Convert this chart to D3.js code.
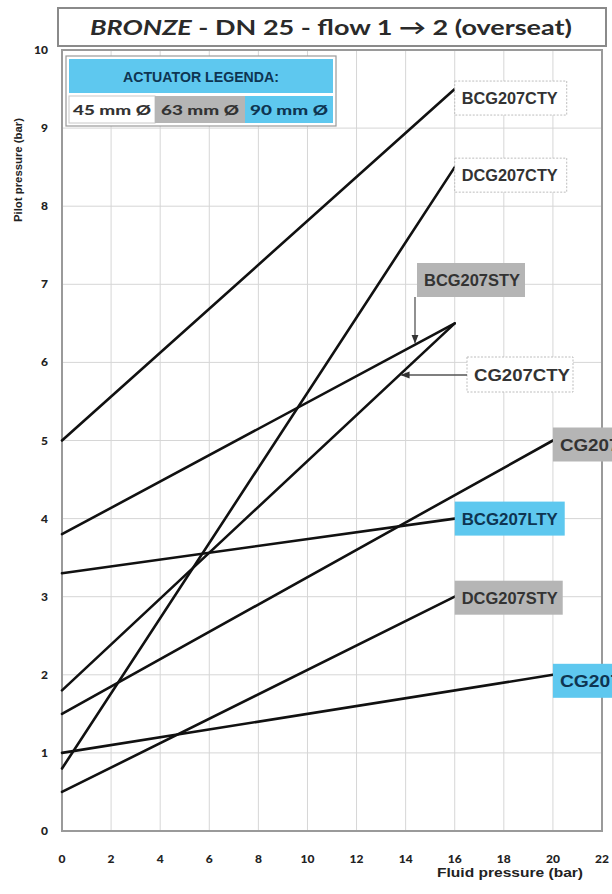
<!DOCTYPE html>
<html>
<head>
<meta charset="utf-8">
<script src="https://cdn.jsdelivr.net/npm/d3@7"></script>
<style>
html,body{margin:0;padding:0;background:#fff;overflow:hidden;}
svg{display:block;}
</style>
</head>
<body>
<svg id="chart" width="612" height="894"></svg>
<script>
// ---- data ----
const seriesNames = ["BCG207CTY","DCG207CTY","BCG207STY","CG207CTY","CG207STY","BCG207LTY","DCG207STY","CG207LTY"];
const startX = [0,0,0,0,0,0,0,0];
const startY = [5.0,0.8,3.8,1.8,1.5,3.3,0.5,1.0];
const endX   = [16,16,16,16,20,16,16,20];
const endY   = [9.5,8.5,6.5,6.5,5.0,4.0,3.0,2.0];
const actuator = ["45","45","63","45","63","90","63","90"];
const xTicks = [0,2,4,6,8,10,12,14,16,18,20,22];
const yTicks = [0,1,2,3,4,5,6,7,8,9,10];
const legendLabels = ["45 mm Ø","63 mm Ø","90 mm Ø"];
const legendKeys = ["45","63","90"];

// ---- styles ----
const fillFor = {"45":"#ffffff","63":"#b5b5b5","90":"#5ec8ef"};
const textFor = {"45":"#333333","63":"#333333","90":"#0e3552"};
const svg = d3.select("#chart");
const x = d3.scaleLinear().domain([0,22]).range([62,602]);
const y = d3.scaleLinear().domain([0,10]).range([831,50]);

// grid
svg.append("g").selectAll("line.v").data(xTicks.filter(d=>d>0&&d<22)).join("line")
  .attr("x1",d=>x(d)).attr("x2",d=>x(d)).attr("y1",y(10)).attr("y2",y(0))
  .attr("stroke","#d6d6d6").attr("stroke-width",1);
svg.append("g").selectAll("line.h").data(yTicks.filter(d=>d>0&&d<10)).join("line")
  .attr("x1",x(0)).attr("x2",x(22)).attr("y1",d=>y(d)).attr("y2",d=>y(d))
  .attr("stroke","#d6d6d6").attr("stroke-width",1);

// frame
svg.append("rect").attr("x",x(0)).attr("y",y(10)).attr("width",x(22)-x(0)).attr("height",y(0)-y(10))
  .attr("fill","none").attr("stroke","#9a9a9a").attr("stroke-width",2);

// title box
svg.append("rect").attr("x",58).attr("y",8).attr("width",548).attr("height",38)
  .attr("fill","#fff").attr("stroke","#8a8a8a").attr("stroke-width",2);
const title = svg.append("text").attr("x",331).attr("y",35).attr("text-anchor","middle")
  .attr("font-family","Lato, 'DejaVu Sans', sans-serif").attr("font-weight",700).attr("font-size",21)
  .attr("fill","#2a2a2a").attr("textLength",482).attr("lengthAdjust","spacingAndGlyphs");
title.append("tspan").attr("font-style","italic").text("BRONZE");
title.append("tspan").text(" - DN 25 - flow 1 → 2 (overseat)");

// axes tick labels
const tickFont = "Lato, 'DejaVu Sans', sans-serif";
svg.append("g").selectAll("text").data(xTicks).join("text")
  .attr("x",d=>x(d)).attr("y",863).attr("text-anchor","middle")
  .attr("font-family",tickFont).attr("font-weight",900).attr("font-size",12).attr("fill","#222")
  .text(d=>d);
svg.append("g").selectAll("text").data(yTicks).join("text")
  .attr("x",48).attr("y",d=>y(d)+4).attr("text-anchor","end")
  .attr("font-family",tickFont).attr("font-weight",900).attr("font-size",12).attr("fill","#222")
  .text(d=>d);

// axis titles
svg.append("text").attr("transform","translate(22,170) rotate(-90)").attr("text-anchor","middle")
  .attr("font-family","'Liberation Sans Narrow','Liberation Sans',sans-serif").attr("font-weight",700)
  .attr("font-size",11).attr("fill","#222").attr("textLength",104).attr("lengthAdjust","spacingAndGlyphs")
  .text("Pilot pressure (bar)");
svg.append("text").attr("x",583).attr("y",877).attr("text-anchor","end")
  .attr("font-family","'Liberation Sans Narrow','Liberation Sans',sans-serif").attr("font-weight",700)
  .attr("font-size",13).attr("fill","#222").attr("textLength",146).attr("lengthAdjust","spacingAndGlyphs")
  .text("Fluid pressure (bar)");

// series lines
const lines = seriesNames.map((n,i)=>({name:n,x0:startX[i],y0:startY[i],x1:endX[i],y1:endY[i],act:actuator[i]}));
svg.append("g").selectAll("line").data(lines).join("line")
  .attr("x1",d=>x(d.x0)).attr("y1",d=>y(d.y0)).attr("x2",d=>x(d.x1)).attr("y2",d=>y(d.y1))
  .attr("stroke","#111").attr("stroke-width",2.6).attr("stroke-linecap","round");

// label layout (pixel offsets relative to line end, or explicit boxes)
const layout = {
  "BCG207CTY":{dx:0,dy:-8,w:112},
  "DCG207CTY":{dx:0,dy:-9,w:112},
  "BCG207STY":{box:[417,263,108,34]},
  "CG207CTY":{box:[467,357,106,35]},
  "CG207STY":{dx:0,dy:-13,w:112},
  "BCG207LTY":{dx:0,dy:-17,w:110},
  "DCG207STY":{dx:0,dy:-16,w:108},
  "CG207LTY":{dx:0,dy:-11,w:112}
};
const bh = 34;
const labelFont = "'Liberation Sans Narrow','Liberation Sans',sans-serif";
lines.forEach(d=>{
  const L = layout[d.name];
  let bx,by,bw,bhh;
  if (L.box){ [bx,by,bw,bhh]=L.box; }
  else { bx = x(d.x1)+L.dx; by = y(d.y1)+L.dy; bw=L.w; bhh=bh; }
  const g = svg.append("g");
  g.append("rect").attr("x",bx).attr("y",by).attr("width",bw).attr("height",bhh)
    .attr("fill",fillFor[d.act])
    .attr("stroke",d.act==="45"?"#bdbdbd":"none").attr("stroke-width",1)
    .attr("stroke-dasharray",d.act==="45"?"2,1.5":null);
  g.append("text").attr("x",bx+7).attr("y",by+bhh/2+6)
    .attr("font-family",labelFont).attr("font-weight",700).attr("font-size",17)
    .attr("fill",textFor[d.act]).attr("textLength",96).attr("lengthAdjust","spacingAndGlyphs")
    .text(d.name);
});

// leaders with arrowheads
svg.append("defs").append("marker").attr("id","arr").attr("viewBox","0 0 10 10")
  .attr("refX",9).attr("refY",5).attr("markerWidth",9).attr("markerHeight",9).attr("orient","auto-start-reverse")
  .attr("markerUnits","userSpaceOnUse")
  .append("path").attr("d","M0,1 L10,5 L0,9 Z").attr("fill","#333");
function yOn(d,xv){ return d.y0+(d.y1-d.y0)*(xv-d.x0)/(d.x1-d.x0); }
function xOn(d,yv){ return d.x0+(d.x1-d.x0)*(yv-d.y0)/(d.y1-d.y0); }
// BCG207STY: vertical leader down from box
{
  const d = lines.find(l=>l.name==="BCG207STY");
  const px = 415;
  const tipY = y(yOn(d,x.invert(px)));
  svg.append("line").attr("x1",px).attr("y1",297).attr("x2",px).attr("y2",tipY-2)
    .attr("stroke","#555").attr("stroke-width",1.3).attr("marker-end","url(#arr)");
}
// CG207CTY: horizontal leader left from box
{
  const d = lines.find(l=>l.name==="CG207CTY");
  const py = 375;
  const tipX = x(xOn(d,y.invert(py)));
  svg.append("line").attr("x1",467).attr("y1",py).attr("x2",tipX+2).attr("y2",py)
    .attr("stroke","#555").attr("stroke-width",1.3).attr("marker-end","url(#arr)");
}

// legend
const lg = svg.append("g");
lg.append("rect").attr("x",66).attr("y",56).attr("width",270).attr("height",70)
  .attr("fill","#fff").attr("stroke","#9a9a9a").attr("stroke-width",1.2);
lg.append("rect").attr("x",69).attr("y",59).attr("width",264).attr("height",34).attr("fill","#5ec8ef");
lg.append("text").attr("x",201).attr("y",82).attr("text-anchor","middle")
  .attr("font-family",labelFont).attr("font-weight",700).attr("font-size",15).attr("fill","#0e3552")
  .attr("textLength",156).attr("lengthAdjust","spacingAndGlyphs").text("ACTUATOR LEGENDA:");
const cellX = [69,155,245], cellW = [86,90,88];
legendKeys.forEach((k,i)=>{
  lg.append("rect").attr("x",cellX[i]).attr("y",96).attr("width",cellW[i]).attr("height",27)
    .attr("fill",fillFor[k]).attr("stroke",k==="45"?"#c8c8c8":"none");
  lg.append("text").attr("x",cellX[i]+cellW[i]/2).attr("y",115).attr("text-anchor","middle")
    .attr("font-family",tickFont).attr("font-weight",900).attr("font-size",13)
    .attr("fill",k==="90"?"#0e3552":"#333").attr("textLength",78).attr("lengthAdjust","spacingAndGlyphs")
    .text(legendLabels[i]);
});
</script>
</body>
</html>
